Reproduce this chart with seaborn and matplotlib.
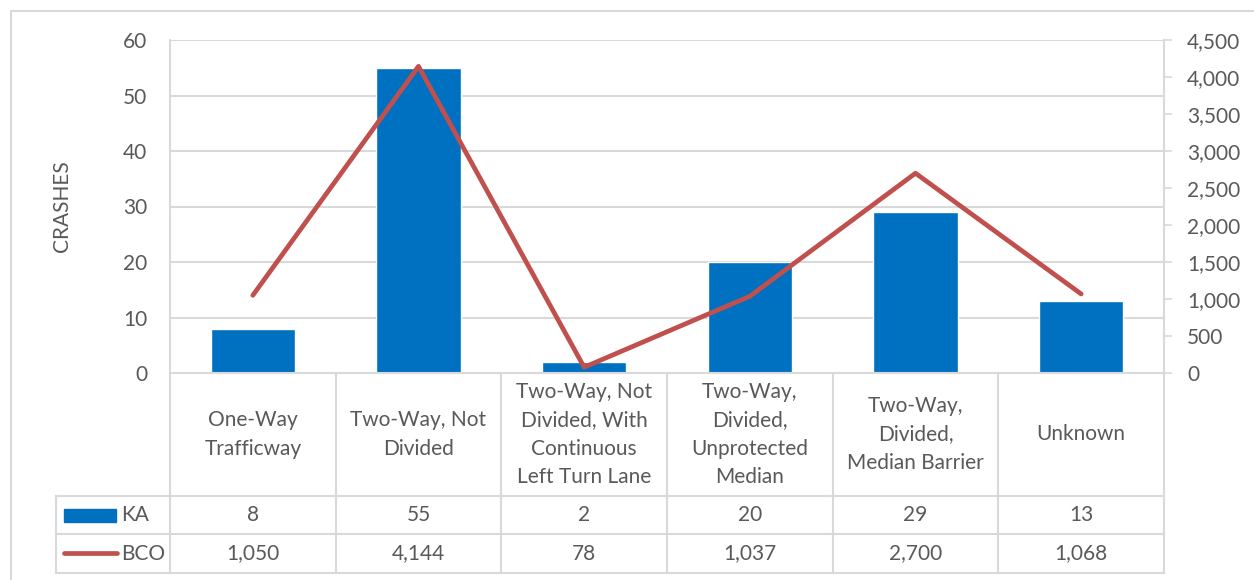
import matplotlib
matplotlib.use('Agg')
import matplotlib.pyplot as plt
import matplotlib.transforms as mtransforms
from matplotlib.lines import Line2D
from matplotlib.patches import Rectangle
import pandas as pd
import seaborn as sns

# data
categories = ['One-Way\nTrafficway', 'Two-Way, Not\nDivided',
              'Two-Way, Not\nDivided, With\nContinuous\nLeft Turn Lane',
              'Two-Way,\nDivided,\nUnprotected\nMedian',
              'Two-Way,\nDivided,\nMedian Barrier', 'Unknown']
ka = [8, 55, 2, 20, 29, 13]
bco = [1050, 4144, 78, 1037, 2700, 1068]
left_ticks = [0, 10, 20, 30, 40, 50, 60]
right_ticks = [0, 500, 1000, 1500, 2000, 2500, 3000, 3500, 4000, 4500]

BLUE = '#0070C0'
RED = '#C0504D'
GRID = '#D9D9D9'
TXT = '#595959'

sns.set_style('white')
plt.rcParams['font.family'] = ['Lato', 'DejaVu Sans']
plt.rcParams['font.size'] = 15

W, H = 1254, 580
fig = plt.figure(figsize=(W / 100, H / 100), dpi=100)


def fy(y):
    # pixel row -> figure fraction
    return 1 - y / H


def fx(x):
    return x / W


ax = fig.add_axes([fx(170), fy(373), fx(1164) - fx(170), fy(40) - fy(373)])

df = pd.DataFrame({'cat': categories, 'KA': ka, 'BCO': bco, 'pos': range(len(ka))})

sns.barplot(data=df, x='cat', y='KA', order=categories, color=BLUE,
            saturation=1, width=0.51, ax=ax, zorder=2)
ax.set_xlim(-0.5, len(ka) - 0.5)
ax.set_ylim(0, 60)
ax.set_yticks(left_ticks)
ax.set_xticks([])
ax.set_xlabel('')
ax.set_ylabel('CRASHES', color=TXT, fontsize=15, labelpad=0)
ax.yaxis.set_label_coords((72 - 170) / 994, 0.5)
ax.tick_params(axis='y', length=0, pad=16.5, labelcolor=TXT, labelsize=15)
for v in left_ticks[1:]:
    ax.axhline(v, color=GRID, lw=1.5, zorder=0)
for s in ['top', 'bottom', 'right']:
    ax.spines[s].set_visible(False)
ax.spines['left'].set_color(GRID)
ax.spines['left'].set_linewidth(1.5)

ax2 = ax.twinx()
sns.lineplot(data=df, x='pos', y='BCO', color=RED, lw=3.4, ax=ax2,
             solid_capstyle='round', zorder=3)
ax2.set_ylim(0, 4500)
ax2.set_yticks(right_ticks)
ax2.set_yticklabels([f'{v:,}' for v in right_ticks])
ax2.set_ylabel('')
ax2.set_xlim(-0.5, len(ka) - 0.5)
ax2.tick_params(axis='y', length=6, width=1.2, color=GRID, pad=10.5,
                labelcolor=TXT, labelsize=15)
for s in ['top', 'bottom', 'left']:
    ax2.spines[s].set_visible(False)
ax2.spines['right'].set_color(GRID)
ax2.spines['right'].set_linewidth(1.5)

# data table below the plot
tr = mtransforms.blended_transform_factory(ax.transData, fig.transFigure)
n = len(ka)
line_kw = dict(color=GRID, lw=1.5)
for i in range(n + 1):
    fig.add_artist(Line2D([i - 0.5, i - 0.5], [fy(373), fy(573)], transform=tr, **line_kw))
fig.add_artist(Line2D([-0.5, n - 0.5], [fy(373), fy(373)], transform=tr, **line_kw))
for yy in [496, 534, 573]:
    fig.add_artist(Line2D([fx(56), fx(1164)], [fy(yy), fy(yy)], transform=fig.transFigure, **line_kw))
fig.add_artist(Line2D([fx(56), fx(56)], [fy(496), fy(573)], transform=fig.transFigure, **line_kw))

for i, c in enumerate(categories):
    fig.text(i, fy(434.5), c, transform=tr, ha='center', va='center',
             color=TXT, fontsize=15, linespacing=1.52)
    fig.text(i, fy(515), str(ka[i]), transform=tr, ha='center', va='center',
             color=TXT, fontsize=15)
    fig.text(i, fy(553.5), f'{bco[i]:,}', transform=tr, ha='center', va='center',
             color=TXT, fontsize=15)

# legend keys in the table
fig.add_artist(Rectangle((fx(64), fy(522)), fx(116) - fx(64), fy(509) - fy(522),
                         transform=fig.transFigure, color=BLUE))
fig.add_artist(Line2D([fx(64), fx(117)], [fy(553), fy(553)], transform=fig.transFigure,
                      color=RED, lw=3.4, solid_capstyle='round'))
fig.text(fx(121), fy(515), 'KA', ha='left', va='center', color=TXT, fontsize=15)
fig.text(fx(121), fy(553.5), 'BCO', ha='left', va='center', color=TXT, fontsize=15)

# outer chart border
fig.add_artist(Rectangle((fx(11), fy(600)), fx(1300) - fx(11), fy(11) - fy(600),
                         transform=fig.transFigure, fill=False, edgecolor=GRID, lw=1.5))

fig.savefig('out.png', dpi=100)
